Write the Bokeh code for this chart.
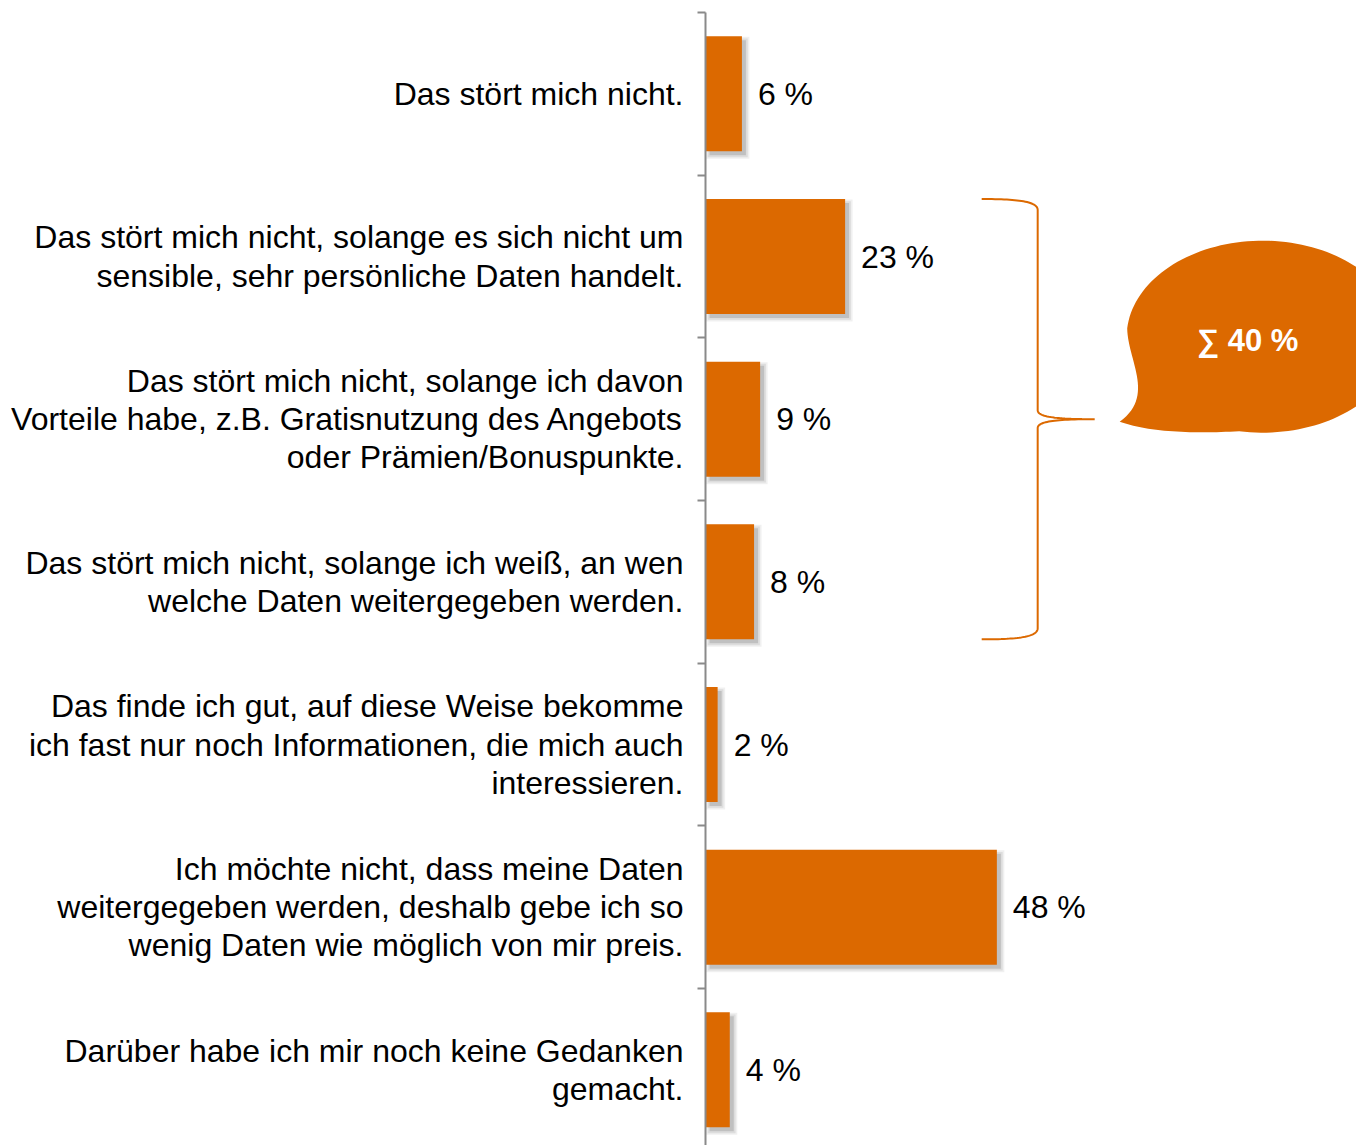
import numpy as np
from bokeh.plotting import figure
from bokeh.models import Range1d, FixedTicker, ColumnDataSource, LinearAxis
from bokeh.core.properties import value
from bokeh.embed import file_html
from bokeh.resources import INLINE

# ---------------- data ----------------
categories = [
    "Das stört mich nicht.",
    "Das stört mich nicht, solange es sich nicht um\nsensible, sehr persönliche Daten handelt.",
    "Das stört mich nicht, solange ich davon\nVorteile habe, z.B. Gratisnutzung des Angebots\noder Prämien/Bonuspunkte.",
    "Das stört mich nicht, solange ich weiß, an wen\nwelche Daten weitergegeben werden.",
    "Das finde ich gut, auf diese Weise bekomme\nich fast nur noch Informationen, die mich auch\ninteressieren.",
    "Ich möchte nicht, dass meine Daten\nweitergegeben werden, deshalb gebe ich so\nwenig Daten wie möglich von mir preis.",
    "Darüber habe ich mir noch keine Gedanken\ngemacht.",
]
values = [6, 23, 9, 8, 2, 48, 4]
bracket_group = [1, 2, 3]  # categories summed in the bubble

# ---------------- layout / style ----------------
W, H = 1356, 1145
BORDER_L = 10          # left border reserved for the axis panel
AXIS_PX = 705          # figure px of the value axis
TOP_PX = 12            # figure px of first category boundary
PX_PER_PCT = 6.07
PX_PER_CAT = 162.67
BAR_H = 0.707
ORANGE = "#DC6900"
AXIS_GRAY = "#8a8a8a"
FONT = "Liberation Sans"
FS = "32px"

def dx(px):
    return px / PX_PER_PCT

def dy(px):
    return px / PX_PER_CAT

n = len(categories)
ys = [i + 0.5 for i in range(n)]
value_labels = [f"{v} %" for v in values]
group_sum = sum(values[i] for i in bracket_group)

p = figure(
    width=W, height=H,
    x_range=Range1d(-(AXIS_PX - BORDER_L) / PX_PER_PCT, (W - AXIS_PX) / PX_PER_PCT),
    y_range=Range1d((H - TOP_PX) / PX_PER_CAT, -TOP_PX / PX_PER_CAT),
    output_backend="svg", toolbar_location=None,
    x_axis_location=None, y_axis_location=None,
    min_border=0, min_border_left=BORDER_L,
    outline_line_color=None, background_fill_color="white",
)
p.grid.visible = False

ticks = list(range(n + 1))
ax = LinearAxis(fixed_location=0)
ax.ticker = FixedTicker(ticks=ticks)
ax.bounds = (0, n)
ax.major_label_overrides = {t: "" for t in ticks}
ax.major_label_standoff = 0
ax.axis_line_color = AXIS_GRAY
ax.axis_line_width = 2
ax.major_tick_line_color = AXIS_GRAY
ax.major_tick_line_width = 2
ax.major_tick_out = 8
ax.major_tick_in = 0
ax.minor_tick_out = 0
ax.minor_tick_in = 0
p.add_layout(ax, "left")

src = ColumnDataSource(dict(y=ys, v=values, cat=categories, lab=value_labels))

# shadows
sdx, sdy = dx(4), dy(4)
for e, a in [(3.5, 0.06), (1.8, 0.08), (0.0, 0.13)]:
    p.hbar(y=[y + sdy for y in ys], left=sdx - dx(e),
           right=[v + sdx + dx(e) for v in values],
           height=BAR_H + 2 * dy(e), fill_color="black", fill_alpha=a, line_color=None)

p.hbar(y="y", left=0, right="v", height=BAR_H, source=src,
       fill_color=ORANGE, line_color=None)

p.text(x=0, y="y", text="cat", source=src, x_offset=-22,
       text_align="right", text_baseline="middle",
       text_font=value(FONT), text_font_size=value(FS),
       text_color="black", text_line_height=1.06)
p.text(x="v", y="y", text="lab", source=src, x_offset=16,
       text_align="left", text_baseline="middle",
       text_font=value(FONT), text_font_size=value(FS),
       text_color="black")

# ---------------- brace ----------------
def bez(p0, p1, p2, p3, m=30):
    t = np.linspace(0, 1, m)[:, None]
    P = [np.array(q, dtype=float) for q in (p0, p1, p2, p3)]
    return ((1 - t) ** 3) * P[0] + 3 * ((1 - t) ** 2) * t * P[1] + 3 * (1 - t) * t ** 2 * P[2] + t ** 3 * P[3]

y_top = bracket_group[0] + (1 - BAR_H) / 2
y_bot = bracket_group[-1] + 1 - (1 - BAR_H) / 2
y_mid = (y_top + y_bot) / 2
X0 = 45.5
XV = X0 + dx(56)
XT = XV + dx(57)

top_corner = bez((X0, y_top), (X0 + dx(34), y_top), (XV, y_top + dy(2)), (XV, y_top + dy(11)))
mid_up = bez((XV, y_mid - dy(9)), (XV, y_mid - dy(3)), (XV + dx(13), y_mid), (XT, y_mid))
mid_dn = bez((XT, y_mid), (XV + dx(13), y_mid), (XV, y_mid + dy(3)), (XV, y_mid + dy(9)))
bot_corner = bez((XV, y_bot - dy(11)), (XV, y_bot - dy(2)), (X0 + dx(34), y_bot), (X0, y_bot))
brace = np.vstack([top_corner, mid_up, mid_dn, bot_corner])
p.line(brace[:, 0], brace[:, 1], line_color=ORANGE, line_width=2)

# ---------------- speech bubble ----------------
CXo, CYo = 168, -82.5   # px offset of bubble centre from brace tip
RX, RY = 136, 96

def to_data(ox, oy):
    return XT + dx(CXo + ox), y_mid + dy(CYo + oy)

def E(deg):
    t = np.radians(deg)
    return (RX * np.cos(t), RY * np.sin(t))

pts = []
for deg in np.linspace(100, -175, 120):
    pts.append(E(deg))
pts += list(map(tuple, bez(E(185), (-135, 24), (-107, 59), (-143, 85))))
pts += list(map(tuple, bez((-143, 85), (-112, 96), (-67, 97), E(100))))
bx = [to_data(a, b)[0] for a, b in pts]
by = [to_data(a, b)[1] for a, b in pts]
p.patch(bx, by, fill_color=ORANGE, line_color=None)

lx, ly = to_data(-15, 4)
p.text(x=[lx], y=[ly], text=[f"∑ {group_sum} %"], text_align="center",
       text_baseline="middle", text_color="white", text_font=value(FONT),
       text_font_size=value("31px"), text_font_style="bold")

open("out.html", "w").write(file_html(p, INLINE))
